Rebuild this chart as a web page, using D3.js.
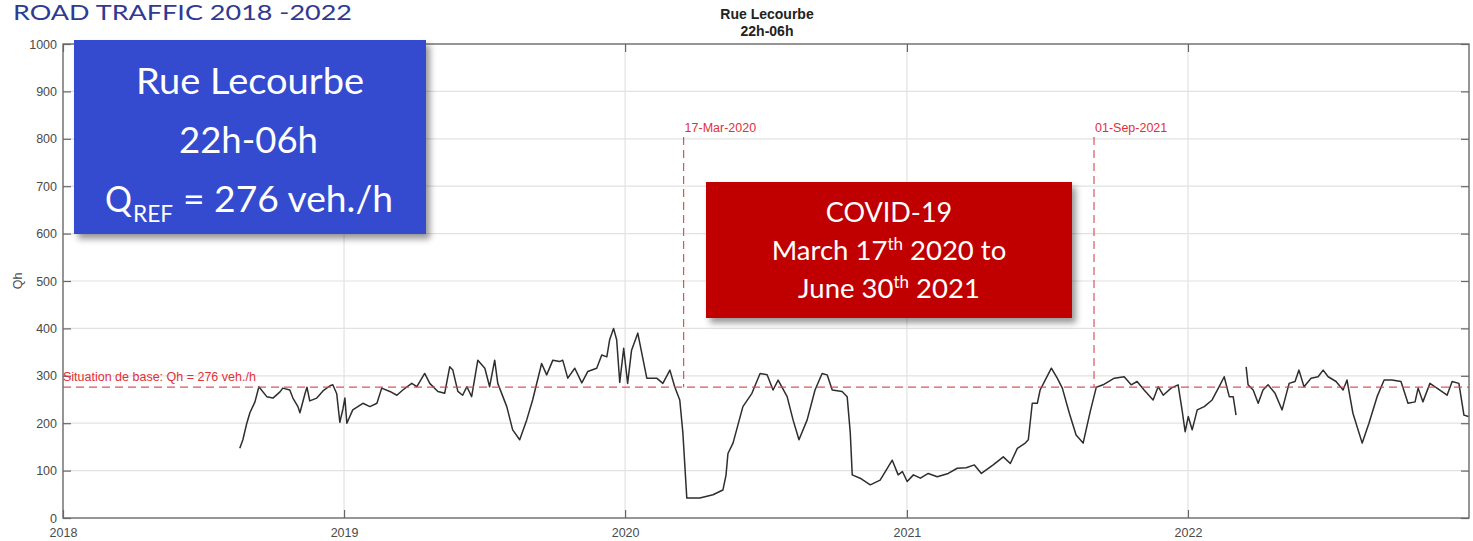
<!DOCTYPE html>
<html><head><meta charset="utf-8">
<script src="https://cdn.jsdelivr.net/npm/d3@7"></script>
<style>body{margin:0;background:#fff} svg{display:block}</style>
</head><body>
<svg id="chart" width="1473" height="541"></svg>
<script>
// ---------- DATA ----------
const yearTicks = [2018, 2019, 2020, 2021, 2022];
const yTicks = [0, 100, 200, 300, 400, 500, 600, 700, 800, 900, 1000];
// decimal-year positions of the readings (null marks a gap in the record)
const dates = [
 2018.629,2018.640,2018.654,2018.665,2018.683,2018.697,2018.725,2018.747,2018.772,2018.782,
 2018.807,2018.818,2018.836,2018.843,2018.861,2018.868,2018.878,2018.903,2018.925,2018.950,
 2018.960,2018.974,2018.985,2018.996,2019.003,2019.010,2019.031,2019.067,2019.092,2019.117,
 2019.134,2019.163,2019.188,2019.209,2019.241,2019.259,2019.287,2019.305,2019.334,2019.358,
 2019.376,2019.387,2019.405,2019.422,2019.437,2019.454,2019.476,2019.501,2019.518,2019.536,
 2019.547,2019.579,2019.600,2019.625,2019.650,2019.671,2019.703,2019.721,2019.743,2019.767,
 2019.778,2019.796,2019.821,2019.846,2019.867,2019.899,2019.917,2019.935,2019.945,2019.959,
 2019.970,2019.981,2019.995,2020.009,2020.023,2020.045,2020.077,2020.112,2020.134,2020.159,
 2020.176,2020.194,2020.205,2020.219,2020.265,2020.312,2020.347,2020.358,2020.365,2020.383,
 2020.418,2020.450,2020.479,2020.504,2020.525,2020.543,2020.575,2020.596,2020.617,2020.646,
 2020.674,2020.699,2020.717,2020.735,2020.770,2020.788,2020.799,2020.806,2020.834,2020.870,
 2020.905,2020.948,2020.969,2020.984,2021.001,2021.023,2021.048,2021.076,2021.108,2021.147,
 2021.179,2021.211,2021.240,2021.265,2021.307,2021.343,2021.368,2021.393,2021.421,2021.432,
 2021.446,2021.464,2021.474,2021.492,2021.514,2021.535,2021.553,2021.578,2021.602,2021.627,
 2021.652,2021.674,2021.698,2021.738,2021.773,2021.798,2021.819,2021.844,2021.876,2021.894,
 2021.912,2021.940,2021.965,2021.979,2021.990,2022.001,2022.015,2022.033,2022.058,2022.086,
 2022.111,2022.129,2022.147,2022.161,2022.171,2022.189,2022.207,2022.214,2022.232,2022.250,
 2022.267,2022.285,2022.310,2022.335,2022.360,2022.381,2022.395,2022.413,2022.438,2022.463,
 2022.481,2022.499,2022.527,2022.552,2022.566,2022.587,2022.620,2022.644,2022.673,2022.698,
 2022.726,2022.758,2022.783,2022.808,2022.819,2022.836,2022.861,2022.886,2022.922,2022.940,
 2022.964,2022.982,2022.998
];
const qh = [
 147,165,200,222,245,277,256,253,266,274,
 270,253,235,222,262,276,247,253,268,279,
 281,262,202,230,253,200,228,242,235,242,
 274,267,259,270,284,277,305,284,267,263,
 319,312,267,259,277,256,333,316,277,333,
 284,235,186,165,207,249,326,302,333,330,
 333,295,316,285,309,316,344,340,376,400,
 376,286,358,284,354,390,295,295,284,312,
 277,249,180,42,42,49,59,90,136,158,
 235,263,305,302,270,291,256,207,165,207,
 270,305,302,270,267,256,180,91,84,70,
 80,122,91,98,77,91,84,94,87,94,
 105,106,112,94,112,129,115,147,158,165,
 242,242,270,291,316,295,274,221,175,158,
 224,276,281,295,298,281,288,270,249,277,
 259,274,281,228,182,214,186,228,235,249,
 277,298,256,256,217,null,319,281,270,242,
 270,281,263,228,284,288,312,277,295,298,
 312,298,288,270,291,221,158,200,256,291,
 291,288,242,245,274,245,284,274,259,288,
 284,217,214
];
const baseValue = 276;
const baseLabel = "Situation de base: Qh = 276 veh./h";
const eventDates = ["2020-03-17", "2021-09-01"];
const eventLabels = ["17-Mar-2020", "01-Sep-2021"];
const chartTitle = ["Rue Lecourbe", "22h-06h"];
const pageTitle = "ROAD TRAFFIC 2018 -2022";

// ---------- SETUP ----------
const svg = d3.select("#chart");
const L = 63, R = 1469, T = 44, B = 518;

function decToDate(t) {
  const y = Math.floor(t);
  const s = Date.UTC(y, 0, 1), e = Date.UTC(y + 1, 0, 1);
  return new Date(s + (t - y) * (e - s));
}
const parse = d3.utcParse("%Y-%m-%d");
const series = dates.map((d, i) => ({ date: decToDate(d), v: qh[i] }));

const x = d3.scaleUtc().domain([new Date(Date.UTC(2018,0,1)), new Date(Date.UTC(2023,0,1))]).range([L, R]);
const y = d3.scaleLinear().domain([0, 1000]).range([B, T]);
const yearDates = yearTicks.map(yv => new Date(Date.UTC(yv, 0, 1)));

const defs = svg.append("defs");
const f = defs.append("filter").attr("id", "shadow").attr("x", "-10%").attr("y", "-10%").attr("width", "130%").attr("height", "140%");
f.append("feDropShadow").attr("dx", 4).attr("dy", 5).attr("stdDeviation", 3).attr("flood-color", "#000").attr("flood-opacity", 0.4);

// grid
const grid = svg.append("g");
grid.selectAll("line.gx").data(yearDates.slice(1)).join("line")
  .attr("x1", d => x(d)).attr("x2", d => x(d)).attr("y1", T).attr("y2", B)
  .attr("stroke", "#e2e2e2").attr("stroke-width", 1.2);
grid.selectAll("line.gy").data(yTicks.slice(1, -1)).join("line")
  .attr("x1", L).attr("x2", R).attr("y1", d => y(d)).attr("y2", d => y(d))
  .attr("stroke", "#e2e2e2").attr("stroke-width", 1.2);

// axes
const tickFont = "'Liberation Sans', Arial, sans-serif";
const gx = svg.append("g").attr("transform", `translate(0,${B})`)
  .call(d3.axisBottom(x).tickValues(yearDates).tickFormat(d3.utcFormat("%Y")).tickSizeInner(-8).tickSizeOuter(0).tickPadding(10));
const gy = svg.append("g").attr("transform", `translate(${L},0)`)
  .call(d3.axisLeft(y).tickValues(yTicks).tickFormat(d3.format("d")).tickSizeInner(-8).tickSizeOuter(0).tickPadding(6));
const gt = svg.append("g").attr("transform", `translate(0,${T})`)
  .call(d3.axisTop(x).tickValues(yearDates).tickFormat("").tickSizeInner(-8).tickSizeOuter(0));
const gr = svg.append("g").attr("transform", `translate(${R},0)`)
  .call(d3.axisRight(y).tickValues(yTicks).tickFormat("").tickSizeInner(-8).tickSizeOuter(0));
[gx, gy, gt, gr].forEach(g => {
  g.select(".domain").remove();
  g.selectAll("line").attr("stroke", "#666").attr("stroke-width", 1.2);
  g.selectAll("text").attr("font-family", tickFont).attr("font-size", 12.5).attr("fill", "#4a4a4a");
});
svg.append("rect").attr("x", L).attr("y", T).attr("width", R - L).attr("height", B - T)
  .attr("fill", "none").attr("stroke", "#6a6a6a").attr("stroke-width", 1.4);

// y label
svg.append("text").attr("transform", `translate(22,${(T + B) / 2}) rotate(-90)`)
  .attr("text-anchor", "middle").attr("font-family", tickFont).attr("font-size", 12.5).attr("fill", "#4a4a4a").text("Qh");

// chart title
svg.selectAll("text.ct").data(chartTitle).join("text")
  .attr("x", (L + R) / 2 + 1).attr("y", (d, i) => 19 + i * 17).attr("text-anchor", "middle")
  .attr("font-family", tickFont).attr("font-weight", "bold").attr("font-size", 14).attr("fill", "#222").text(d => d);

// data line
const line = d3.line().defined(d => d.v != null).x(d => x(d.date)).y(d => y(d.v));
svg.append("path").datum(series).attr("d", line).attr("fill", "none")
  .attr("stroke", "#2e2e2e").attr("stroke-width", 1.5).attr("stroke-linejoin", "round");

// base line
const red = "#d8414b";
svg.append("line").attr("x1", L).attr("x2", R).attr("y1", y(baseValue)).attr("y2", y(baseValue))
  .attr("stroke", red).attr("stroke-width", 1.2).attr("stroke-dasharray", "8,5").attr("opacity", 0.9);
svg.append("text").attr("x", L).attr("y", y(baseValue) - 6).attr("font-family", tickFont)
  .attr("font-size", 12.5).attr("fill", "#e0303a").text(baseLabel);

// event lines
const ev = eventDates.map((d, i) => ({ date: parse(d), label: eventLabels[i] }));
svg.selectAll("line.ev").data(ev).join("line")
  .attr("x1", d => x(d.date)).attr("x2", d => x(d.date)).attr("y1", 137).attr("y2", y(baseValue))
  .attr("stroke", red).attr("stroke-width", 1.2).attr("stroke-dasharray", "8,5").attr("opacity", 0.9);
svg.selectAll("text.ev").data(ev).join("text")
  .attr("x", d => x(d.date) + 1).attr("y", 132).attr("font-family", tickFont)
  .attr("font-size", 12.5).attr("fill", "#e0303a").text(d => d.label);

// page title
const boxFont = "Lato, 'Open Sans', sans-serif";
svg.append("text").attr("x", 13).attr("y", 20).attr("font-family", boxFont).attr("font-size", 21)
  .attr("fill", "#2f3a92").attr("textLength", 339).attr("lengthAdjust", "spacingAndGlyphs").text(pageTitle);

// blue box
svg.append("rect").attr("x", 74).attr("y", 40).attr("width", 352).attr("height", 194)
  .attr("fill", "#344bcf").attr("filter", "url(#shadow)");
const white = "#ffffff";
svg.append("text").attr("x", 136).attr("y", 94).attr("font-family", boxFont).attr("font-size", 37)
  .attr("fill", white).attr("textLength", 228).attr("lengthAdjust", "spacingAndGlyphs").text(chartTitle[0]);
svg.append("text").attr("x", 179).attr("y", 153).attr("font-family", boxFont).attr("font-size", 37)
  .attr("fill", white).attr("textLength", 139).attr("lengthAdjust", "spacingAndGlyphs").text(chartTitle[1]);
svg.append("text").attr("x", 105).attr("y", 212).attr("font-family", boxFont).attr("font-size", 37)
  .attr("fill", white).attr("textLength", 27).attr("lengthAdjust", "spacingAndGlyphs").text("Q");
svg.append("text").attr("x", 133).attr("y", 222).attr("font-family", boxFont).attr("font-size", 24)
  .attr("fill", white).attr("textLength", 40).attr("lengthAdjust", "spacingAndGlyphs").text("REF");
svg.append("text").attr("x", 183).attr("y", 212).attr("font-family", boxFont).attr("font-size", 37)
  .attr("fill", white).attr("textLength", 210).attr("lengthAdjust", "spacingAndGlyphs").text("= " + baseValue + " veh./h");

// red box
svg.append("rect").attr("x", 706).attr("y", 182).attr("width", 366).attr("height", 136)
  .attr("fill", "#c00000").attr("filter", "url(#shadow)");
const cx = 889;
svg.append("text").attr("x", cx).attr("y", 222).attr("text-anchor", "middle").attr("font-family", boxFont)
  .attr("font-size", 27).attr("fill", white).text("COVID-19");
const t2 = svg.append("text").attr("x", cx).attr("y", 260).attr("text-anchor", "middle").attr("font-family", boxFont)
  .attr("font-size", 27.5).attr("fill", white);
t2.append("tspan").text("March 17");
t2.append("tspan").attr("font-size", 17).attr("dy", -10).text("th");
t2.append("tspan").attr("dy", 10).text(" 2020 to");
const t3 = svg.append("text").attr("x", cx).attr("y", 298).attr("text-anchor", "middle").attr("font-family", boxFont)
  .attr("font-size", 27.5).attr("fill", white);
t3.append("tspan").text("June 30");
t3.append("tspan").attr("font-size", 17).attr("dy", -10).text("th");
t3.append("tspan").attr("dy", 10).text(" 2021");
</script>
</body></html>
